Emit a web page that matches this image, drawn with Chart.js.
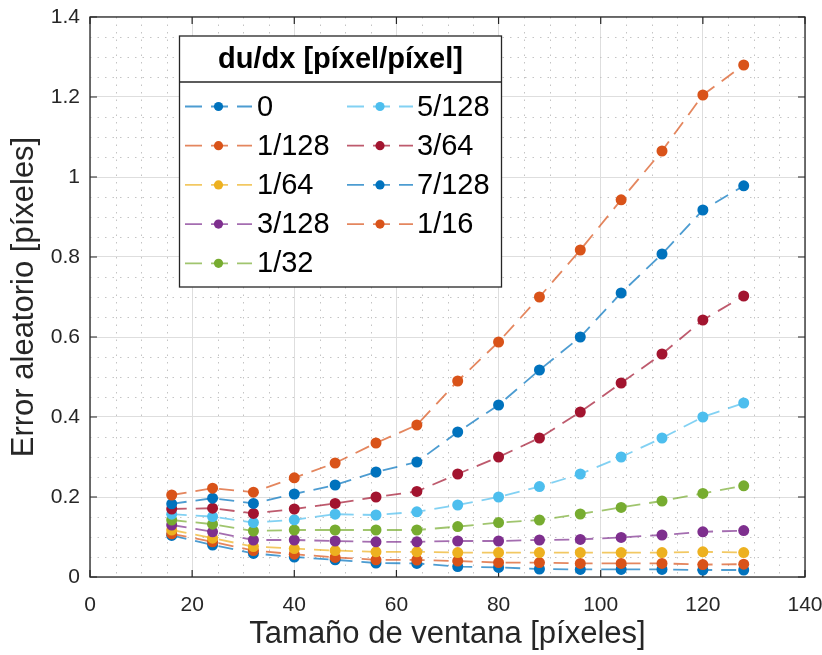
<!DOCTYPE html>
<html>
<head>
<meta charset="utf-8">
<script src="https://cdn.jsdelivr.net/npm/chart.js@4.4.1/dist/chart.umd.min.js"></script>
<style>
html,body{margin:0;padding:0;background:#fff;}
canvas{display:block;}
</style>
</head>
<body>
<canvas id="c" width="822" height="655"></canvas>
<script>
// ---- data ----
const windowSizes = [16, 24, 32, 40, 48, 56, 64, 72, 80, 88, 96, 104, 112, 120, 128];
const seriesLabels = ['0', '1/128', '1/64', '3/128', '1/32', '5/128', '3/64', '7/128', '1/16'];
const err_0     = [0.104, 0.080, 0.059, 0.050, 0.043, 0.035, 0.034, 0.026, 0.024, 0.020, 0.019, 0.019, 0.019, 0.0175, 0.0175];
const err_1_128 = [0.108, 0.088, 0.066, 0.057, 0.049, 0.043, 0.0425, 0.040, 0.036, 0.036, 0.034, 0.034, 0.034, 0.031, 0.032];
const err_1_64  = [0.1175, 0.097, 0.076, 0.071, 0.066, 0.063, 0.063, 0.061, 0.061, 0.061, 0.061, 0.061, 0.061, 0.063, 0.061];
const err_3_128 = [0.130, 0.113, 0.0925, 0.0925, 0.090, 0.088, 0.088, 0.090, 0.090, 0.0925, 0.094, 0.099, 0.105, 0.113, 0.116];
const err_1_32  = [0.1425, 0.132, 0.115, 0.1175, 0.1175, 0.1175, 0.1175, 0.126, 0.136, 0.1425, 0.1575, 0.174, 0.190, 0.209, 0.228];
const err_5_128 = [0.157, 0.151, 0.136, 0.143, 0.157, 0.155, 0.163, 0.180, 0.200, 0.226, 0.2575, 0.300, 0.3475, 0.400, 0.435];
const err_3_64  = [0.170, 0.172, 0.159, 0.170, 0.184, 0.200, 0.214, 0.2575, 0.300, 0.3475, 0.4125, 0.485, 0.5575, 0.6425, 0.7025];
const err_7_128 = [0.183, 0.197, 0.184, 0.2075, 0.230, 0.2625, 0.2875, 0.3625, 0.430, 0.5175, 0.600, 0.710, 0.8075, 0.9175, 0.978];
const err_1_16  = [0.205, 0.222, 0.212, 0.248, 0.285, 0.335, 0.380, 0.490, 0.5875, 0.700, 0.8175, 0.943, 1.065, 1.205, 1.280];
const xTickValues = [0, 20, 40, 60, 80, 100, 120, 140];
const yTickLabels = ['0', '0.2', '0.4', '0.6', '0.8', '1', '1.2', '1.4'];
const legendTitle = 'du/dx [píxel/píxel]';
const xTitle = 'Tamaño de ventana [píxeles]';
const yTitle = 'Error aleatorio [píxeles]';

// ---- styles ----
const seriesValues = [err_0, err_1_128, err_1_64, err_3_128, err_1_32, err_5_128, err_3_64, err_7_128, err_1_16];
const seriesRGB = [[0,114,189],[217,83,25],[237,177,32],[126,47,142],[119,172,48],[77,190,238],[162,20,47],[0,114,189],[217,83,25]];
const FONT = '"Liberation Sans", Arial, Helvetica, sans-serif';
const AXIS_COLOR = '#262626';
const DASH = [15, 9];

const rgb = (c, a) => `rgba(${c[0]},${c[1]},${c[2]},${a})`;

const datasets = seriesLabels.map((lab, i) => ({
  label: lab,
  data: windowSizes.map((x, k) => ({x: x, y: seriesValues[i][k]})),
  borderColor: rgb(seriesRGB[i], 0.7),
  backgroundColor: rgb(seriesRGB[i], 1),
  pointBackgroundColor: rgb(seriesRGB[i], 1),
  pointBorderColor: rgb(seriesRGB[i], 1),
  pointRadius: 5.5,
  pointBorderWidth: 0,
  borderWidth: 1.8,
  borderDash: DASH,
  tension: 0,
  fill: false,
  order: seriesLabels.length - i
}));

const zeroPad = s => { s.paddingTop = 0; s.paddingBottom = 0; s.paddingLeft = 0; s.paddingRight = 0; };

const boxPlugin = {
  id: 'matlabAxes',
  beforeDatasetsDraw(chart) {
    const {ctx, chartArea: a, scales: {x, y}} = chart;
    ctx.save();
    // minor dotted grid
    ctx.strokeStyle = '#c4c4c4';
    ctx.lineWidth = 1;
    ctx.setLineDash([1.5, 6]);
    for (let v = 5; v < 140; v += 5) {
      if (v % 20 === 0) continue;
      const px = Math.round(x.getPixelForValue(v)) + 0.5;
      ctx.beginPath(); ctx.moveTo(px, a.top); ctx.lineTo(px, a.bottom); ctx.stroke();
    }
    for (let k = 1; k < 28; k++) {
      if (k % 4 === 0) continue;
      const py = Math.round(y.getPixelForValue(k * 0.05)) + 0.5;
      ctx.beginPath(); ctx.moveTo(a.left, py); ctx.lineTo(a.right, py); ctx.stroke();
    }
    ctx.setLineDash([]);
    // box
    ctx.strokeStyle = AXIS_COLOR;
    ctx.lineWidth = 1.3;
    ctx.strokeRect(a.left, a.top, a.right - a.left, a.bottom - a.top);
    // inward tick marks
    const TL = 7;
    ctx.lineWidth = 1.2;
    xTickValues.forEach(v => {
      const px = x.getPixelForValue(v);
      ctx.beginPath();
      ctx.moveTo(px, a.bottom); ctx.lineTo(px, a.bottom - TL);
      ctx.moveTo(px, a.top); ctx.lineTo(px, a.top + TL);
      ctx.stroke();
    });
    yTickLabels.forEach((t, k) => {
      const py = y.getPixelForValue(k * 0.2);
      ctx.beginPath();
      ctx.moveTo(a.left, py); ctx.lineTo(a.left + TL, py);
      ctx.moveTo(a.right, py); ctx.lineTo(a.right - TL, py);
      ctx.stroke();
    });
    ctx.restore();
  },
  afterDraw(chart) {
    const ctx = chart.ctx;
    const L = 179.5, R = 501.5, T = 36, B = 287, SEP = 82;
    ctx.save();
    ctx.fillStyle = '#ffffff';
    ctx.fillRect(L, T, R - L, B - T);
    ctx.strokeStyle = AXIS_COLOR;
    ctx.lineWidth = 1.3;
    ctx.strokeRect(L, T, R - L, B - T);
    ctx.beginPath(); ctx.moveTo(L, SEP); ctx.lineTo(R, SEP); ctx.stroke();
    ctx.fillStyle = '#000';
    ctx.font = 'bold 29px ' + FONT;
    ctx.textAlign = 'center';
    ctx.textBaseline = 'middle';
    ctx.fillText(legendTitle, (L + R) / 2, 60);
    ctx.font = '29px ' + FONT;
    ctx.textAlign = 'left';
    const rowH = 39.2, row0 = 106.5;
    const cols = [{x0: 185, x1: 252, mx: 218.5, tx: 257}, {x0: 347, x1: 413, mx: 380, tx: 417}];
    chart.data.datasets.forEach((ds, i) => {
      const col = cols[i < 5 ? 0 : 1];
      const r = i < 5 ? i : i - 5;
      const yy = row0 + r * rowH;
      ctx.strokeStyle = ds.borderColor;
      ctx.lineWidth = 1.8;
      ctx.setLineDash([17, 9]);
      ctx.beginPath(); ctx.moveTo(col.x0, yy); ctx.lineTo(col.x1, yy); ctx.stroke();
      ctx.setLineDash([]);
      ctx.fillStyle = ds.pointBackgroundColor;
      ctx.beginPath(); ctx.arc(col.mx, yy, 4.6, 0, Math.PI * 2); ctx.fill();
      ctx.fillStyle = '#000';
      ctx.fillText(ds.label, col.tx, yy + 1);
    });
    ctx.restore();
  }
};

new Chart(document.getElementById('c'), {
  type: 'line',
  data: {datasets: datasets},
  plugins: [boxPlugin],
  options: {
    responsive: false,
    devicePixelRatio: 1,
    animation: false,
    layout: {padding: {top: 17, right: 17, left: 0, bottom: 0}},
    plugins: {legend: {display: false}, tooltip: {enabled: false}},
    scales: {
      x: {
        type: 'linear', min: 0, max: 140,
        afterFit: s => { s.height = 78; zeroPad(s); },
        afterBuildTicks: s => { s.ticks = xTickValues.map(v => ({value: v})); },
        ticks: {font: {family: FONT, size: 21}, color: AXIS_COLOR, padding: 16, maxRotation: 0,
                callback: v => String(v)},
        grid: {color: '#dedede', lineWidth: 1, drawTicks: false},
        border: {display: false},
        title: {display: true, text: xTitle, color: AXIS_COLOR,
                font: {family: FONT, size: 31}, padding: {top: 0, bottom: 1.5}}
      },
      y: {
        type: 'linear', min: 0, max: 1.4,
        afterFit: s => { s.width = 90; zeroPad(s); },
        afterBuildTicks: s => { s.ticks = yTickLabels.map((t, k) => ({value: k * 0.2})); },
        ticks: {font: {family: FONT, size: 21}, color: AXIS_COLOR, padding: 10,
                callback: (v, idx) => yTickLabels[idx]},
        grid: {color: '#dedede', lineWidth: 1, drawTicks: false},
        border: {display: false},
        title: {display: true, text: yTitle, color: AXIS_COLOR,
                font: {family: FONT, size: 31}, padding: {top: 6, bottom: 0}}
      }
    }
  }
});
</script>
</body>
</html>
